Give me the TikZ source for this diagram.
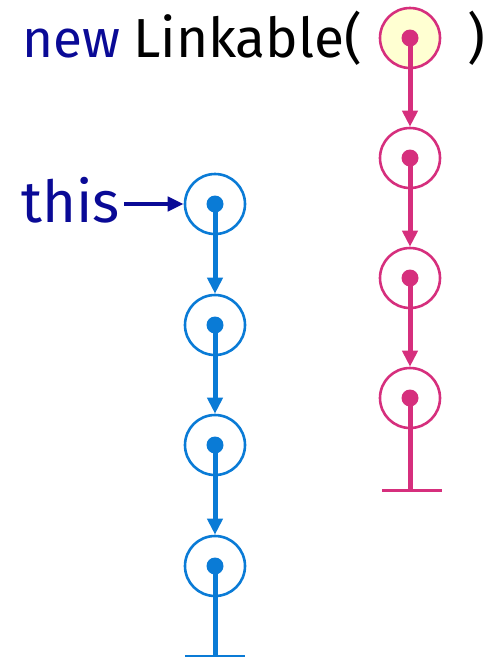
\documentclass[tikz,border=0pt]{standalone}
\usepackage{fontspec}
\setmainfont{Fira Sans}
\usetikzlibrary{arrows.meta}
\definecolor{linkpink}{HTML}{D62F7D}
\definecolor{linkblue}{HTML}{0A7BD6}
\definecolor{codeblue}{HTML}{0A0A96}
\definecolor{paleyellow}{HTML}{FFFFD2}
\tikzset{
  ring/.style={circle, draw=#1, line width=2.6pt, minimum size=60pt, inner sep=0pt},
  link/.style={draw=#1, line width=5pt, -{Triangle[length=16pt,width=15pt]}},
  stem/.style={draw=#1, line width=5pt},
  bar/.style={draw=#1, line width=3pt},
  label/.style={font=\fontsize{55}{55}\selectfont, inner sep=0pt, anchor=base west}
}
\begin{document}
\begin{tikzpicture}[x=1pt,y=-1pt]
\useasboundingbox (0,0) rectangle (495,657);

% header text
\node[label, text=codeblue, anchor=base east, font=\fontsize{53}{53}\selectfont] (new) at (121,57) {new};
\node[label] (lk) at (133,57) {Linkable(};
\node[label] (rp) at (467,57) {)};

% pink list (argument)
\node[ring=linkpink, fill=paleyellow] (p1) at (410,38) {};
\node[ring=linkpink] (p2) at (410,158) {};
\node[ring=linkpink] (p3) at (410,278) {};
\node[ring=linkpink] (p4) at (410,398) {};
\coordinate (pend) at (410,490);
\coordinate (pl) at (382,490);
\coordinate (pr) at (442,490);
\draw[link=linkpink] (p1.center) -- (p2.north);
\draw[link=linkpink] (p2.center) -- (p3.north);
\draw[link=linkpink] (p3.center) -- (p4.north);
\draw[stem=linkpink] (p4.center) -- (pend);
\draw[bar=linkpink] (pl) -- (pr);
\foreach \n in {p1,p2,p3,p4} \fill[linkpink] (\n) circle (8.5pt);

% blue list (this)
\node[ring=linkblue] (b1) at (215,204) {};
\node[ring=linkblue] (b2) at (215,325) {};
\node[ring=linkblue] (b3) at (215,445) {};
\node[ring=linkblue] (b4) at (215,566) {};
\coordinate (bend) at (215,657);
\coordinate (bl) at (185,656);
\coordinate (br) at (245,656);
\draw[link=linkblue] (b1.center) -- (b2.north);
\draw[link=linkblue] (b2.center) -- (b3.north);
\draw[link=linkblue] (b3.center) -- (b4.north);
\draw[stem=linkblue] (b4.center) -- (bend);
\draw[bar=linkblue] (bl) -- (br);
\foreach \n in {b1,b2,b3,b4} \fill[linkblue] (\n) circle (8.5pt);

% this pointer
\node[label, text=codeblue, anchor=base east, font=\fontsize{58}{58}\selectfont] (this) at (120,222) {this};
\coordinate (thistail) at (124,204);
\draw[draw=codeblue, line width=4pt, -{Triangle[length=16pt,width=14pt]}] (thistail) -- (b1.west);
\end{tikzpicture}
\end{document}
